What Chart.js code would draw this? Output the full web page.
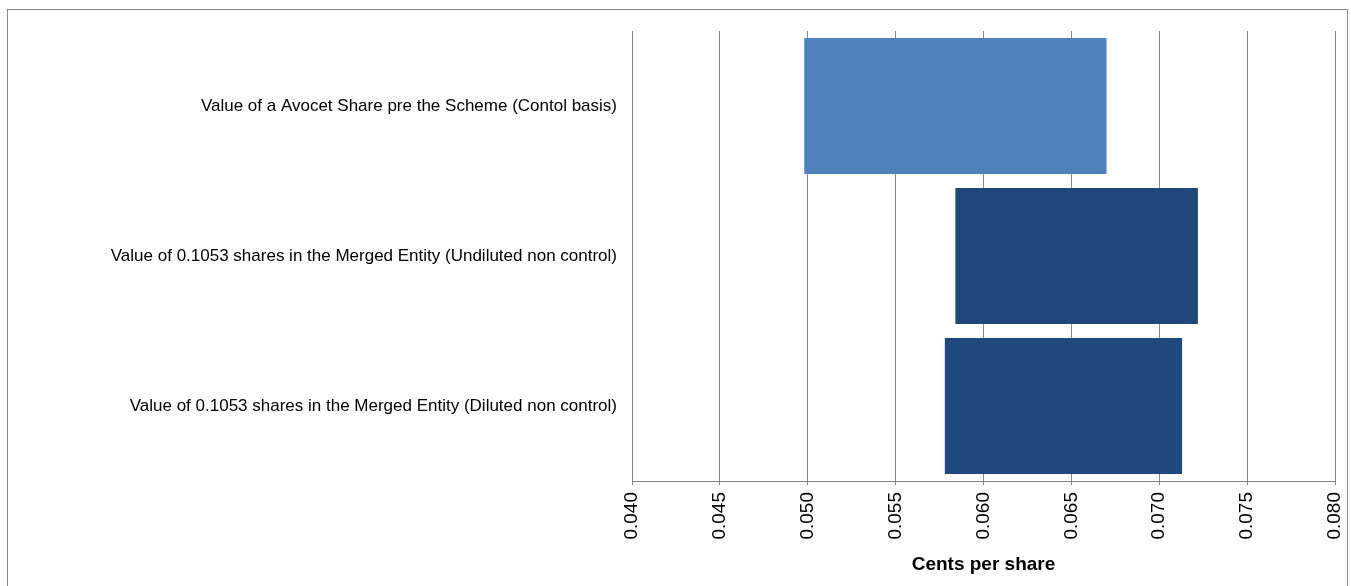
<!DOCTYPE html>
<html>
<head>
<meta charset="utf-8">
<script src="https://cdn.jsdelivr.net/npm/chart.js@4.4.1/dist/chart.umd.min.js"></script>
<style>
    html, body { margin: 0; padding: 0; background: #fff; overflow: hidden; }
    #wrap { position: absolute; left: 0; top: 0; width: 1351px; height: 586px; }
    #frame {
        position: absolute; left: 7px; top: 9px; width: 1341px; height: 600px;
        box-sizing: border-box; border: 1px solid #8a8a8a; pointer-events: none;
    }
</style>
</head>
<body>
<div id="wrap"><canvas id="myChart" width="1351" height="586"></canvas></div>
<div id="frame"></div>
<script>
/* DONNEES DU GRAPHIQUE */
const categories = [
    'Value of a Avocet Share pre the Scheme (Contol basis)',
    'Value of 0.1053 shares in the Merged Entity (Undiluted non control)',
    'Value of 0.1053 shares in the Merged Entity (Diluted non control)'
];
const lowValues = [0.0498, 0.0584, 0.0578];
const highValues = [0.0670, 0.0722, 0.0713];
const barColors = ['#4F81BD', '#1F497D', '#1F497D'];
const axisMin = 0.040;
const axisMax = 0.080;
const axisStep = 0.005;
const axisTitle = 'Cents per share';

const ranges = lowValues.map(function(v, i) {
    return [v, highValues[i]];
});

const gridColor = '#878787';
const fontFamily = '"Liberation Sans", Arial, sans-serif';

/* PARAMETRES DU GRAPHIQUE */
const ctx = document.getElementById('myChart').getContext('2d');
const myChart = new Chart(ctx, {
    type: 'bar',
    data: {
        labels: categories,
        datasets: [{
            data: ranges,
            backgroundColor: barColors,
            borderWidth: 0,
            barPercentage: 0.907,
            categoryPercentage: 1
        }]
    },
    options: {
        indexAxis: 'y',
        responsive: false,
        animation: false,
        layout: {
            padding: { top: 31, right: 16, left: 0, bottom: 0 }
        },
        plugins: {
            legend: { display: false },
            tooltip: { enabled: false },
            title: { display: false }
        },
        scales: {
            x: {
                min: axisMin,
                max: axisMax,
                ticks: {
                    stepSize: axisStep,
                    minRotation: 90,
                    maxRotation: 90,
                    padding: 7,
                    color: '#000',
                    font: { size: 19, family: fontFamily },
                    callback: function(value) {
                        return Number(value).toFixed(3);
                    }
                },
                grid: {
                    color: gridColor,
                    lineWidth: 1,
                    drawTicks: true,
                    tickLength: 4
                },
                border: { display: true, color: gridColor, width: 1 },
                title: {
                    display: true,
                    text: axisTitle,
                    color: '#000',
                    font: { size: 19, weight: 'bold', family: fontFamily },
                    padding: { top: 4, bottom: 10 }
                },
                afterFit: function(scale) {
                    scale.height = 105;
                    scale.paddingRight = 0;
                    scale.paddingLeft = 0;
                }
            },
            y: {
                ticks: {
                    padding: 15,
                    color: '#000',
                    font: { size: 17, family: fontFamily }
                },
                grid: { display: false, drawTicks: false },
                border: { display: true, color: gridColor, width: 1 },
                afterFit: function(scale) {
                    scale.width = 632;
                }
            }
        }
    }
});
</script>
</body>
</html>
